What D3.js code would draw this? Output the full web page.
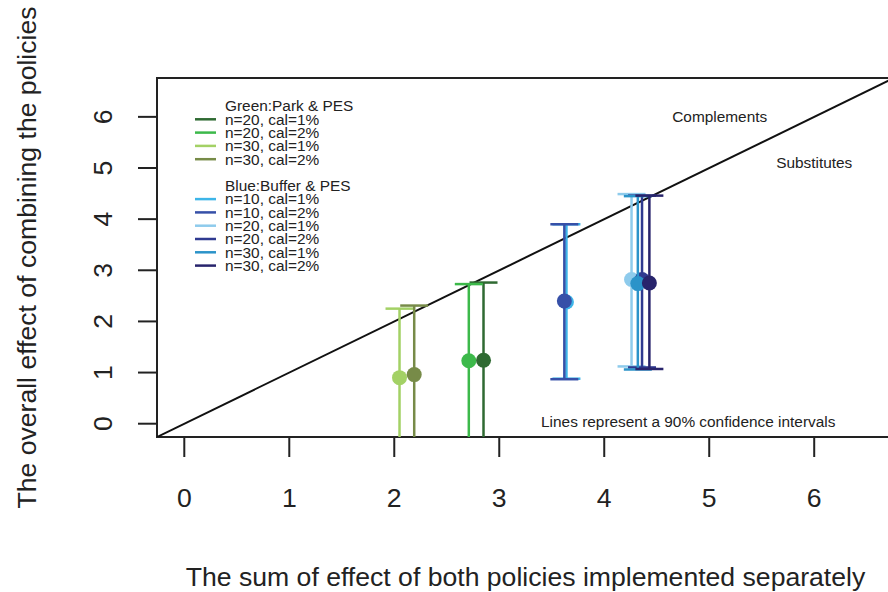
<!DOCTYPE html>
<html>
<meta charset="utf-8">
<head>
<script src="https://cdnjs.cloudflare.com/ajax/libs/d3/7.8.5/d3.min.js"></script>
</head>
<style>
body { margin: 0; background: #fff; }
svg { font-family: "Liberation Sans", Arial, Helvetica, sans-serif; }
.big { font-size: 26.6px; fill: #222; }
.small { font-size: 15.4px; fill: #222; }
</style>
<body>
<svg id="canvas" width="888" height="592"></svg>
<script>
// series, in the order of the legend (and the drawing order)
const seriesLabels = ["n=20, cal=1%", "n=20, cal=2%", "n=30, cal=1%", "n=30, cal=2%",
                      "n=10, cal=1%", "n=10, cal=2%", "n=20, cal=1%", "n=20, cal=2%",
                      "n=30, cal=1%", "n=30, cal=2%"];
const seriesGroup  = [0, 0, 0, 0, 1, 1, 1, 1, 1, 1];
const groupTitles  = ["Green:Park & PES", "Blue:Buffer & PES"];
const seriesColors = ["#2f6a32", "#3cb94a", "#a3d165", "#778b48",
                      "#3db5e8", "#3650a8", "#8ecbec", "#2f3a90",
                      "#2b93c9", "#28246c"];
// x: sum of separate effects, y: combined effect, with 90% interval
const sumEffect  = [2.85, 2.71, 2.05, 2.19, 3.64, 3.62, 4.26, 4.36, 4.32, 4.43];
const combEffect = [1.24, 1.23, 0.90, 0.96, 2.38, 2.40, 2.82, 2.82, 2.74, 2.75];
const ciLower    = [-0.6, -0.6, -0.6, -0.6, 0.88, 0.87, 1.12, 1.10, 1.06, 1.07];
const ciUpper    = [2.76, 2.73, 2.25, 2.31, 3.90, 3.90, 4.49, 4.46, 4.45, 4.46];
const xTicks = [0, 1, 2, 3, 4, 5, 6];
const yTicks = [0, 1, 2, 3, 4, 5, 6];

const svg = d3.select("#canvas");
// R-style range: limits 0..6.5 plus 4% each side
const x = d3.scaleLinear().domain([-0.26, 6.76]).range([157, 894]);
const y = d3.scaleLinear().domain([-0.26, 6.76]).range([437, 78]);

svg.append("clipPath").attr("id", "plotclip")
   .append("rect")
   .attr("x", x.range()[0]).attr("y", y.range()[1])
   .attr("width", x.range()[1] - x.range()[0])
   .attr("height", y.range()[0] - y.range()[1]);

// axes (ticks only, the box gives the axis lines)
const xAxis = svg.append("g");
xAxis.selectAll("line").data(xTicks).join("line")
     .attr("x1", d => x(d)).attr("x2", d => x(d))
     .attr("y1", 437).attr("y2", 457)
     .attr("stroke", "#222").attr("stroke-width", 2);
xAxis.selectAll("text").data(xTicks).join("text")
     .attr("class", "big")
     .attr("x", d => x(d)).attr("y", 507)
     .attr("text-anchor", "middle")
     .text(d => d);

const yAxis = svg.append("g");
yAxis.selectAll("line").data(yTicks).join("line")
     .attr("x1", 138).attr("x2", 157)
     .attr("y1", d => y(d)).attr("y2", d => y(d))
     .attr("stroke", "#222").attr("stroke-width", 2);
yAxis.selectAll("text").data(yTicks).join("text")
     .attr("class", "big")
     .attr("transform", d => `translate(112,${y(d)}) rotate(-90)`)
     .attr("text-anchor", "middle")
     .text(d => d);

// box
svg.append("rect")
   .attr("x", x.range()[0]).attr("y", y.range()[1])
   .attr("width", x.range()[1] - x.range()[0])
   .attr("height", y.range()[0] - y.range()[1])
   .attr("fill", "none").attr("stroke", "#222").attr("stroke-width", 2);

const plot = svg.append("g").attr("clip-path", "url(#plotclip)");

// 45 degree line: combined = sum
plot.append("line")
    .attr("x1", x(-0.26)).attr("y1", y(-0.26))
    .attr("x2", x(6.76)).attr("y2", y(6.76))
    .attr("stroke", "#111").attr("stroke-width", 2);

// error bars + points
const idx = d3.range(seriesLabels.length);
const capHalf = 14;
idx.forEach(i => {
    const g = plot.append("g");
    const c = seriesColors[i];
    g.append("line")
     .attr("x1", x(sumEffect[i])).attr("x2", x(sumEffect[i]))
     .attr("y1", y(ciLower[i])).attr("y2", y(ciUpper[i]))
     .attr("stroke", c).attr("stroke-width", 2.5);
    [ciLower[i], ciUpper[i]].forEach(v => {
        g.append("line")
         .attr("x1", x(sumEffect[i]) - capHalf).attr("x2", x(sumEffect[i]) + capHalf)
         .attr("y1", y(v)).attr("y2", y(v))
         .attr("stroke", c).attr("stroke-width", 2.5);
    });
    g.append("circle")
     .attr("cx", x(sumEffect[i])).attr("cy", y(combEffect[i]))
     .attr("r", 7.5).attr("fill", c);
});

// annotations
svg.append("text").attr("class", "small")
   .attr("x", x(5.1)).attr("y", y(6.0)).attr("dy", "0.35em")
   .attr("text-anchor", "middle").text("Complements");
svg.append("text").attr("class", "small")
   .attr("x", x(6.0)).attr("y", y(5.1)).attr("dy", "0.35em")
   .attr("text-anchor", "middle").text("Substitutes");
svg.append("text").attr("class", "small")
   .attr("x", x(4.8)).attr("y", y(0.05)).attr("dy", "0.35em")
   .attr("text-anchor", "middle").text("Lines represent a 90% confidence intervals");

// legend
const legend = svg.append("g");
const rowH = 13.3;
let ly = 106;
groupTitles.forEach((t, gi) => {
    legend.append("text").attr("class", "small")
          .attr("x", 225).attr("y", ly).attr("dy", "0.35em").text(t);
    ly += rowH;
    idx.filter(i => seriesGroup[i] === gi).forEach(i => {
        legend.append("line")
              .attr("x1", 195).attr("x2", 216)
              .attr("y1", ly).attr("y2", ly)
              .attr("stroke", seriesColors[i]).attr("stroke-width", 2.5);
        legend.append("text").attr("class", "small")
              .attr("x", 225).attr("y", ly).attr("dy", "0.35em")
              .text(seriesLabels[i]);
        ly += rowH;
    });
    ly += rowH;
});

// axis titles
svg.append("text").attr("class", "big")
   .attr("x", (x.range()[0] + x.range()[1]) / 2).attr("y", 586)
   .attr("text-anchor", "middle")
   .text("The sum of effect of both policies implemented separately");
svg.append("text").attr("class", "big")
   .attr("transform", `translate(36,${(y.range()[0] + y.range()[1]) / 2}) rotate(-90)`)
   .attr("text-anchor", "middle")
   .text("The overall effect of combining the policies");
</script>
</body>
</html>
